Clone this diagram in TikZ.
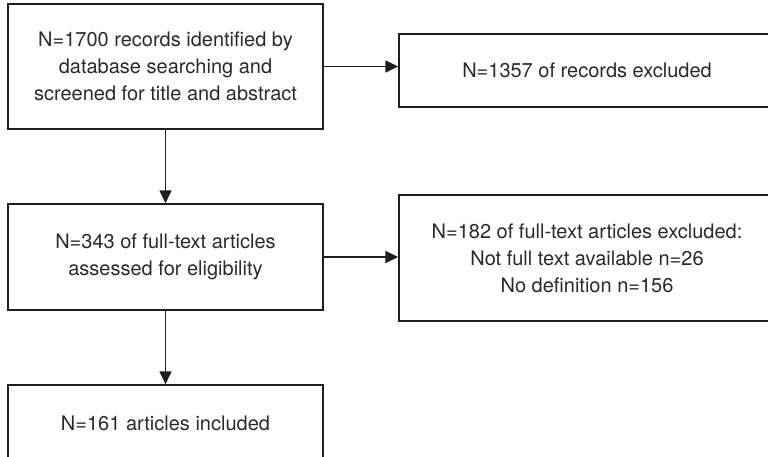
\documentclass[tikz,border=0pt]{standalone}
\usepackage{fontspec}
\setmainfont{TeX Gyre Heros}
\usetikzlibrary{arrows.meta}
\definecolor{ink}{HTML}{1E1E1E}
\definecolor{textink}{HTML}{2A2A2A}
\begin{document}
\begin{tikzpicture}[x=1pt,y=-1pt,
  flowbox/.style={draw=ink,line width=1.4pt,rectangle,inner sep=0pt,
    text=textink,align=center,font=\fontsize{20}{27}\selectfont},
  flowarrow/.style={draw=ink,line width=1.4pt,-{Triangle[length=13pt,width=12pt]}}]
\useasboundingbox (0,0) rectangle (768,456);
\clip (0,0) rectangle (768,456);
\node[flowbox,minimum width=315pt,minimum height=125pt] (ident) at (165.5,66.5)
  {N=1700 records identified by\\database searching and\\screened for title and abstract};
\node[flowbox,minimum width=376pt,minimum height=73pt] (excl1) at (587,70.5)
  {N=1357 of records excluded};
\node[flowbox,minimum width=315pt,minimum height=106pt] (full) at (165.5,257)
  {N=343 of full-text articles\\assessed for eligibility};
\node[flowbox,minimum width=376pt,minimum height=126pt] (excl2) at (587,258)
  {N=182 of full-text articles excluded:\\Not full text available n=26\\No definition n=156};
\node[flowbox,minimum width=315pt,minimum height=76pt] (incl) at (165.5,423)
  {N=161 articles included};
\draw[flowarrow] (ident.east) -- (ident.east -| excl1.west);
\draw[flowarrow] (ident.south) -- (full.north);
\draw[flowarrow] (full.east) -- (full.east -| excl2.west);
\draw[flowarrow] (full.south) -- (incl.north);
\end{tikzpicture}
\end{document}
